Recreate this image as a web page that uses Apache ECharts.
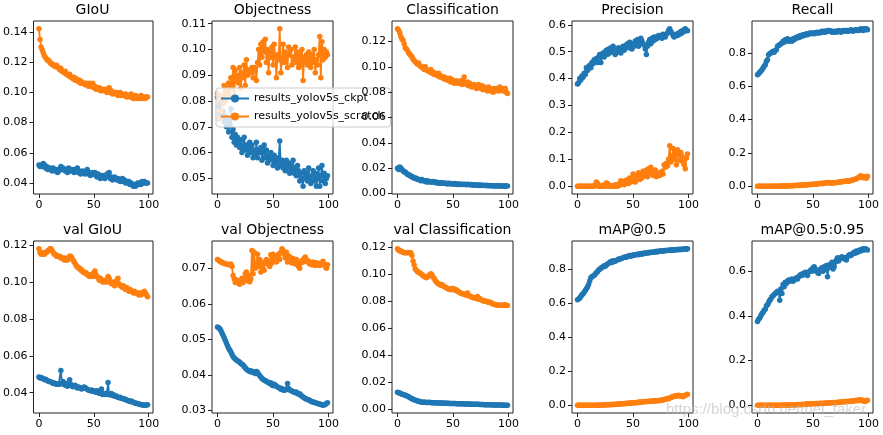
<!DOCTYPE html>
<html><head><meta charset="utf-8">
<script src="https://cdn.jsdelivr.net/npm/echarts@6/dist/echarts.min.js"></script>
<style>html,body{margin:0;padding:0;background:#fff}#c{width:883px;height:435px}</style>
</head><body><div id="c"></div>
<script>
const epochs = [...Array(100).keys()];
const seriesNames = ['results_yolov5s_ckpt', 'results_yolov5s_scratch'];
const titles = ['GIoU', 'Objectness', 'Classification', 'Precision', 'Recall',
  'val GIoU', 'val Objectness', 'val Classification', 'mAP@0.5', 'mAP@0.5:0.95'];
const xTicks = [0, 50, 100];

// GIoU
const gi_c = [0.052,0.051,0.052,0.051,0.053,0.052,0.050,0.051,0.049,0.050,
0.050,0.049,0.048,0.050,0.049,0.048,0.049,0.047,0.048,0.049,
0.051,0.049,0.050,0.049,0.048,0.049,0.047,0.050,0.049,0.048,
0.049,0.048,0.047,0.049,0.048,0.050,0.047,0.048,0.046,0.047,
0.048,0.047,0.046,0.047,0.049,0.046,0.047,0.045,0.046,0.047,
0.046,0.047,0.045,0.044,0.046,0.045,0.043,0.044,0.045,0.044,
0.043,0.044,0.046,0.045,0.047,0.043,0.044,0.042,0.043,0.044,
0.043,0.042,0.043,0.042,0.041,0.042,0.043,0.041,0.042,0.040,
0.041,0.040,0.041,0.039,0.040,0.039,0.038,0.039,0.038,0.039,
0.040,0.039,0.040,0.039,0.041,0.040,0.041,0.040,0.040,0.040];
const gi_s = [0.142,0.135,0.130,0.128,0.126,0.124,0.123,0.122,0.121,0.121,
0.120,0.119,0.119,0.118,0.118,0.117,0.118,0.117,0.116,0.115,
0.116,0.114,0.114,0.113,0.114,0.112,0.112,0.111,0.112,0.110,
0.110,0.109,0.110,0.108,0.109,0.108,0.107,0.108,0.106,0.107,
0.106,0.106,0.105,0.106,0.105,0.104,0.106,0.104,0.105,0.106,
0.103,0.104,0.102,0.103,0.102,0.103,0.101,0.102,0.101,0.102,
0.101,0.102,0.100,0.101,0.103,0.100,0.101,0.099,0.100,0.100,
0.099,0.100,0.098,0.099,0.100,0.098,0.099,0.098,0.098,0.099,
0.097,0.098,0.098,0.097,0.099,0.097,0.096,0.097,0.098,0.096,
0.097,0.097,0.096,0.098,0.097,0.096,0.097,0.096,0.097,0.097];

// Objectness
const ob_c = [0.0815,0.078,0.075,0.079,0.074,0.076,0.072,0.074,0.070,0.073,
0.068,0.071,0.077,0.066,0.069,0.064,0.067,0.063,0.066,0.064,
0.062,0.065,0.060,0.063,0.066,0.061,0.063,0.059,0.062,0.064,
0.060,0.063,0.058,0.061,0.059,0.064,0.058,0.061,0.060,0.062,
0.057,0.060,0.063,0.058,0.061,0.056,0.059,0.057,0.060,0.058,
0.055,0.059,0.056,0.058,0.054,0.057,0.0645,0.055,0.057,0.054,
0.056,0.053,0.057,0.054,0.056,0.052,0.055,0.053,0.057,0.052,
0.054,0.051,0.055,0.053,0.049,0.052,0.050,0.047,0.053,0.050,
0.052,0.049,0.054,0.050,0.048,0.051,0.053,0.049,0.052,0.047,
0.050,0.054,0.047,0.051,0.055,0.049,0.052,0.048,0.050,0.051];
const ob_s = [0.083,0.073,0.081,0.076,0.082,0.079,0.086,0.080,0.085,0.083,
0.087,0.082,0.089,0.085,0.093,0.081,0.092,0.088,0.090,0.087,
0.093,0.085,0.091,0.089,0.094,0.086,0.096,0.090,0.092,0.091,
0.092,0.093,0.089,0.093,0.092,0.088,0.095,0.100,0.094,0.102,
0.097,0.103,0.099,0.104,0.095,0.100,0.091,0.099,0.097,0.101,
0.094,0.102,0.097,0.089,0.098,0.096,0.108,0.091,0.096,0.102,
0.095,0.099,0.097,0.093,0.101,0.098,0.100,0.094,0.097,0.096,
0.101,0.095,0.099,0.093,0.098,0.094,0.100,0.088,0.097,0.095,
0.098,0.094,0.099,0.096,0.093,0.098,0.095,0.100,0.091,0.096,
0.094,0.098,0.105,0.089,0.103,0.096,0.100,0.097,0.099,0.098];

// Classification
const cl_c = [0.020,0.019,0.021,0.020,0.019,0.018,0.017,0.017,0.016,0.015,
0.015,0.014,0.014,0.013,0.013,0.012,0.012,0.012,0.011,0.011,
0.011,0.010,0.011,0.010,0.010,0.010,0.009,0.010,0.009,0.0095,
0.009,0.009,0.0095,0.009,0.0085,0.009,0.0085,0.008,0.0085,0.008,
0.008,0.0085,0.008,0.0078,0.008,0.0075,0.008,0.0078,0.0075,0.0078,
0.0075,0.0072,0.0078,0.0075,0.007,0.0075,0.0072,0.007,0.0073,0.007,
0.0072,0.007,0.0068,0.0072,0.007,0.0068,0.007,0.0066,0.0068,0.0065,
0.0068,0.0066,0.0065,0.0067,0.0064,0.0066,0.0063,0.0065,0.0064,0.0063,
0.0065,0.0062,0.0064,0.0062,0.0063,0.0061,0.0062,0.006,0.0062,0.006,
0.0061,0.006,0.0062,0.0059,0.006,0.0058,0.006,0.0059,0.006,0.006];
const cl_s = [0.130,0.129,0.127,0.124,0.122,0.121,0.118,0.115,0.114,0.113,
0.111,0.110,0.109,0.108,0.106,0.105,0.104,0.103,0.102,0.103,
0.101,0.100,0.100,0.099,0.098,0.100,0.098,0.097,0.097,0.096,
0.098,0.095,0.096,0.094,0.095,0.094,0.093,0.095,0.092,0.093,
0.092,0.091,0.092,0.090,0.091,0.090,0.089,0.091,0.088,0.090,
0.089,0.087,0.088,0.089,0.087,0.088,0.087,0.089,0.086,0.088,
0.092,0.087,0.086,0.088,0.085,0.087,0.086,0.084,0.085,0.086,
0.085,0.083,0.084,0.086,0.084,0.083,0.085,0.082,0.084,0.083,
0.082,0.081,0.084,0.083,0.081,0.082,0.080,0.083,0.081,0.082,
0.083,0.081,0.084,0.082,0.083,0.081,0.082,0.083,0.080,0.079];

// Precision
const pr_c = [0.380,0.385,0.400,0.395,0.410,0.405,0.420,0.415,0.440,0.430,
0.445,0.450,0.440,0.460,0.455,0.470,0.465,0.475,0.460,0.480,
0.490,0.460,0.485,0.495,0.480,0.500,0.505,0.490,0.510,0.495,
0.515,0.500,0.520,0.505,0.490,0.510,0.500,0.515,0.505,0.495,
0.510,0.520,0.505,0.515,0.525,0.530,0.515,0.535,0.525,0.510,
0.530,0.520,0.540,0.530,0.545,0.520,0.535,0.550,0.540,0.530,
0.525,0.510,0.490,0.520,0.535,0.545,0.530,0.550,0.540,0.555,
0.545,0.555,0.550,0.560,0.555,0.560,0.550,0.565,0.560,0.555,
0.565,0.570,0.580,0.585,0.575,0.570,0.560,0.555,0.560,0.565,
0.560,0.570,0.565,0.575,0.570,0.580,0.575,0.585,0.580,0.578];
const pr_s = [0,0,0,0,0,0,0,0,0,0,
0,0,0,0,0,0,0.005,0.015,0.010,0,
0,0,0,0.003,0,0,0.012,0.010,0,0,
0,0.002,0,0,0.005,0,0,0.008,0.003,0.020,
0.010,0.015,0.005,0.020,0.012,0.025,0.010,0.030,0.015,0.020,
0.045,0.030,0.015,0.040,0.035,0.050,0.025,0.045,0.030,0.055,
0.040,0.050,0.060,0.035,0.065,0.045,0.070,0.050,0.040,0.055,
0.060,0.035,0.050,0.045,0.040,0.050,0.055,0.045,0.080,0.070,
0.085,0.075,0.100,0.150,0.090,0.110,0.140,0.100,0.130,0.080,
0.135,0.120,0.095,0.125,0.110,0.090,0.080,0.065,0.105,0.120];

// Recall
const re_c = [0.670,0.675,0.685,0.690,0.700,0.710,0.720,0.730,0.750,0.760,
0.790,0.795,0.800,0.805,0.810,0.805,0.815,0.820,0.840,0.845,
0.850,0.855,0.860,0.870,0.865,0.880,0.875,0.885,0.870,0.880,
0.875,0.870,0.885,0.880,0.890,0.895,0.890,0.900,0.895,0.905,
0.900,0.910,0.905,0.910,0.915,0.910,0.915,0.920,0.915,0.920,
0.920,0.915,0.920,0.925,0.920,0.925,0.920,0.925,0.930,0.925,
0.930,0.925,0.930,0.935,0.930,0.935,0.930,0.925,0.930,0.925,
0.930,0.925,0.930,0.935,0.930,0.925,0.930,0.935,0.930,0.935,
0.930,0.935,0.930,0.935,0.940,0.935,0.930,0.935,0.940,0.935,
0.940,0.935,0.940,0.945,0.940,0.935,0.945,0.940,0.945,0.940];
const re_s = [0,0,0,0,0,0,0,0,0,0,
0,0,0,0,0,0,0.001,0,0,0,
0.001,0,0.002,0,0.001,0.002,0,0.003,0.001,0.002,
0.003,0.002,0.004,0.003,0.005,0.004,0.006,0.005,0.004,0.007,
0.006,0.008,0.007,0.006,0.009,0.008,0.010,0.009,0.011,0.010,
0.012,0.011,0.013,0.012,0.015,0.014,0.016,0.018,0.015,0.017,
0.019,0.018,0.020,0.022,0.020,0.021,0.019,0.018,0.021,0.020,
0.022,0.020,0.024,0.023,0.026,0.025,0.028,0.026,0.030,0.029,
0.032,0.030,0.028,0.033,0.036,0.034,0.038,0.040,0.042,0.045,
0.048,0.052,0.058,0.062,0.055,0.050,0.057,0.052,0.048,0.060];

// val GIoU
const vg_c = [0.0485,0.048,0.0482,0.0478,0.0475,0.047,0.0472,0.0468,0.0465,0.046,
0.046,0.0458,0.0455,0.045,0.0452,0.0448,0.0446,0.0445,0.0448,0.0445,
0.052,0.045,0.046,0.0445,0.044,0.045,0.0435,0.0442,0.047,0.0445,
0.0438,0.0432,0.0435,0.044,0.0432,0.0425,0.043,0.0428,0.0422,0.042,
0.0425,0.043,0.0428,0.0422,0.0418,0.0415,0.0412,0.041,0.0415,0.0408,
0.041,0.0405,0.0402,0.041,0.040,0.0398,0.0395,0.042,0.039,0.0395,
0.0392,0.039,0.0398,0.0455,0.0388,0.039,0.0395,0.0385,0.0388,0.038,
0.0383,0.0378,0.0375,0.0372,0.0375,0.037,0.0368,0.0365,0.0367,0.0362,
0.036,0.0358,0.0355,0.0352,0.0355,0.035,0.0348,0.0345,0.0343,0.0342,
0.034,0.0338,0.0337,0.0335,0.0335,0.0333,0.0332,0.0332,0.0333,0.0335];
const vg_s = [0.118,0.116,0.115,0.116,0.115,0.115,0.116,0.116,0.117,0.117,
0.118,0.118,0.117,0.116,0.115,0.115,0.114,0.114,0.114,0.114,
0.113,0.113,0.113,0.112,0.113,0.112,0.112,0.113,0.114,0.114,
0.113,0.112,0.111,0.110,0.109,0.108,0.108,0.107,0.107,0.106,
0.106,0.105,0.105,0.105,0.104,0.104,0.103,0.104,0.104,0.103,
0.105,0.106,0.104,0.103,0.102,0.101,0.102,0.101,0.100,0.101,
0.100,0.101,0.100,0.103,0.102,0.100,0.099,0.100,0.099,0.098,
0.099,0.101,0.102,0.099,0.098,0.098,0.097,0.098,0.097,0.096,
0.097,0.096,0.095,0.096,0.095,0.095,0.094,0.095,0.094,0.094,
0.094,0.093,0.094,0.093,0.094,0.094,0.095,0.094,0.093,0.092];

// val Objectness
const vo_c = [0.0535,0.0533,0.0530,0.0525,0.0518,0.0512,0.0505,0.0498,0.0490,0.0482,
0.0475,0.0470,0.0465,0.0458,0.0452,0.0448,0.0445,0.0442,0.0440,0.0438,
0.0436,0.0432,0.0430,0.0428,0.0424,0.0420,0.0416,0.0414,0.0412,0.0410,
0.0412,0.0408,0.0410,0.0406,0.0404,0.0410,0.0408,0.0402,0.0398,0.0394,
0.0390,0.0388,0.0385,0.0384,0.0382,0.0380,0.0378,0.0376,0.0378,0.0372,
0.0370,0.0374,0.0372,0.0368,0.0366,0.0365,0.0363,0.0360,0.0362,0.0358,
0.0357,0.0358,0.0360,0.0376,0.0362,0.0358,0.0356,0.0355,0.0353,0.0352,
0.0350,0.0352,0.0348,0.0346,0.0347,0.0343,0.0340,0.0338,0.0336,0.0334,
0.0332,0.0331,0.0330,0.0328,0.0326,0.0325,0.0324,0.0323,0.0322,0.0321,
0.0320,0.0319,0.0318,0.0317,0.0316,0.0315,0.0316,0.0317,0.0320,0.0322];
const vo_s = [0.0725,0.0723,0.0720,0.0718,0.0717,0.0715,0.0714,0.0713,0.0712,0.0711,
0.0711,0.0710,0.0712,0.0705,0.0680,0.0670,0.0660,0.0668,0.0662,0.0658,
0.0655,0.0665,0.0672,0.0660,0.0668,0.0685,0.0690,0.0665,0.0680,0.0662,
0.0670,0.0750,0.0685,0.0745,0.0700,0.0712,0.0740,0.0705,0.0725,0.0690,
0.0715,0.0700,0.0695,0.0718,0.0725,0.0712,0.0720,0.0705,0.0738,0.0715,
0.0740,0.0728,0.0732,0.0718,0.0735,0.0740,0.0725,0.0745,0.0755,0.0750,
0.0740,0.0730,0.0745,0.0718,0.0735,0.0722,0.0730,0.0715,0.0728,0.0720,
0.0712,0.0725,0.0718,0.0705,0.0700,0.0715,0.0722,0.0718,0.0728,0.0732,
0.0725,0.0718,0.0720,0.0712,0.0715,0.0710,0.0718,0.0712,0.0708,0.0716,
0.0710,0.0714,0.0708,0.0715,0.0712,0.0720,0.0710,0.0705,0.0700,0.0710];

// val Classification
const vc_c = [0.0125,0.012,0.0118,0.0115,0.011,0.0108,0.0105,0.0102,0.0098,0.0095,
0.009,0.0085,0.008,0.0076,0.0072,0.0068,0.0065,0.0062,0.006,0.0058,
0.0055,0.0052,0.005,0.005,0.0049,0.0049,0.0048,0.0048,0.0049,0.0048,
0.0048,0.0047,0.0047,0.0046,0.0046,0.0046,0.0045,0.0045,0.0045,0.0044,
0.0044,0.0044,0.0043,0.0043,0.0042,0.0042,0.0042,0.0041,0.0041,0.0041,
0.004,0.004,0.004,0.0039,0.0039,0.0039,0.0039,0.0038,0.0038,0.0038,
0.0037,0.0037,0.0037,0.0036,0.0036,0.0036,0.0035,0.0035,0.0035,0.0035,
0.0034,0.0034,0.0034,0.0034,0.0033,0.0033,0.0033,0.0033,0.0032,0.0032,
0.0032,0.0032,0.0031,0.0031,0.0031,0.0031,0.003,0.003,0.003,0.003,
0.003,0.0029,0.0029,0.0029,0.0029,0.0028,0.0028,0.0028,0.0028,0.0028];
const vc_s = [0.119,0.118,0.118,0.117,0.117,0.1165,0.116,0.116,0.116,0.1162,
0.116,0.1163,0.116,0.114,0.110,0.107,0.104,0.103,0.102,0.1015,
0.101,0.1005,0.100,0.099,0.0985,0.098,0.0975,0.098,0.099,0.0995,
0.1005,0.0995,0.098,0.097,0.0955,0.0945,0.0935,0.093,0.0925,0.092,
0.0925,0.0915,0.091,0.0905,0.090,0.0895,0.089,0.089,0.0885,0.0895,
0.0895,0.089,0.088,0.0885,0.0878,0.087,0.0865,0.086,0.0858,0.0855,
0.0855,0.0848,0.0845,0.0862,0.0842,0.084,0.0835,0.083,0.0828,0.0825,
0.0828,0.082,0.0835,0.0815,0.082,0.0812,0.081,0.0805,0.080,0.0802,
0.080,0.0795,0.0792,0.0795,0.079,0.0785,0.078,0.0778,0.0775,0.0772,
0.077,0.0772,0.077,0.0768,0.077,0.0772,0.0768,0.0775,0.077,0.0768];

// mAP@0.5
const m5_c = [0.620,0.625,0.630,0.640,0.650,0.655,0.665,0.675,0.685,0.695,
0.710,0.730,0.750,0.755,0.760,0.765,0.770,0.780,0.785,0.795,
0.800,0.805,0.810,0.815,0.820,0.818,0.825,0.830,0.835,0.840,
0.845,0.840,0.850,0.845,0.848,0.852,0.855,0.860,0.858,0.862,
0.865,0.868,0.870,0.872,0.870,0.875,0.878,0.880,0.876,0.882,
0.880,0.885,0.883,0.886,0.888,0.885,0.890,0.892,0.888,0.893,
0.895,0.893,0.896,0.898,0.895,0.900,0.898,0.900,0.902,0.900,
0.903,0.905,0.902,0.905,0.907,0.905,0.908,0.906,0.910,0.908,
0.910,0.912,0.910,0.913,0.911,0.914,0.912,0.915,0.913,0.916,
0.915,0.917,0.915,0.918,0.916,0.919,0.917,0.920,0.918,0.920];
const m5_s = [0,0,0,0,0,0,0,0,0,0,
0,0,0,0,0,0,0,0,0,0.001,
0,0.001,0,0.001,0.002,0.001,0.002,0.003,0.002,0.003,
0.004,0.003,0.005,0.004,0.006,0.005,0.007,0.006,0.008,0.007,
0.009,0.008,0.010,0.009,0.012,0.010,0.011,0.013,0.012,0.014,
0.013,0.015,0.014,0.016,0.015,0.018,0.017,0.019,0.018,0.020,
0.021,0.020,0.022,0.021,0.023,0.022,0.024,0.023,0.025,0.024,
0.026,0.025,0.027,0.026,0.029,0.028,0.031,0.030,0.033,0.035,
0.037,0.040,0.038,0.042,0.045,0.048,0.050,0.052,0.055,0.053,
0.056,0.058,0.055,0.052,0.054,0.050,0.056,0.058,0.062,0.065];

// mAP@0.5:0.95
const m9_c = [0.375,0.385,0.390,0.400,0.410,0.415,0.425,0.430,0.445,0.450,
0.460,0.470,0.475,0.485,0.490,0.495,0.500,0.505,0.510,0.505,
0.470,0.520,0.500,0.540,0.530,0.550,0.545,0.555,0.560,0.555,
0.560,0.565,0.555,0.560,0.565,0.570,0.565,0.575,0.580,0.585,
0.580,0.590,0.585,0.595,0.590,0.580,0.595,0.600,0.605,0.600,
0.615,0.620,0.610,0.600,0.595,0.590,0.605,0.610,0.615,0.600,
0.620,0.610,0.625,0.575,0.615,0.630,0.625,0.640,0.610,0.620,
0.640,0.650,0.660,0.645,0.655,0.660,0.665,0.660,0.655,0.660,
0.650,0.665,0.670,0.675,0.670,0.675,0.680,0.685,0.680,0.690,
0.685,0.690,0.695,0.690,0.698,0.700,0.695,0.700,0.698,0.695];
const m9_s = [0,0,0,0,0,0,0,0,0,0,
0,0,0,0,0,0,0,0,0,0,
0,0,0,0.001,0,0.001,0,0.001,0.001,0,
0.001,0.002,0.001,0.002,0.001,0.002,0.003,0.002,0.003,0.002,
0.003,0.004,0.003,0.004,0.005,0.004,0.005,0.006,0.005,0.006,
0.006,0.007,0.006,0.008,0.007,0.008,0.007,0.009,0.008,0.009,
0.008,0.010,0.009,0.010,0.011,0.010,0.011,0.012,0.011,0.012,
0.012,0.011,0.013,0.012,0.014,0.013,0.015,0.014,0.016,0.015,
0.017,0.016,0.018,0.017,0.019,0.018,0.020,0.019,0.021,0.022,
0.020,0.023,0.024,0.021,0.023,0.019,0.018,0.017,0.021,0.022];

// y tick labels per panel
const yTicks = [
  [0.04,0.06,0.08,0.10,0.12,0.14],
  [0.05,0.06,0.07,0.08,0.09,0.10,0.11],
  [0.00,0.02,0.04,0.06,0.08,0.10,0.12],
  [0.0,0.1,0.2,0.3,0.4,0.5,0.6],
  [0.0,0.2,0.4,0.6,0.8],
  [0.04,0.06,0.08,0.10,0.12],
  [0.03,0.04,0.05,0.06,0.07],
  [0.00,0.02,0.04,0.06,0.08,0.10,0.12],
  [0.0,0.2,0.4,0.6,0.8],
  [0.0,0.2,0.4,0.6]
];
const yDecimals = [2,2,2,1,1,2,2,2,1,1];
const ckptData = [gi_c, ob_c, cl_c, pr_c, re_c, vg_c, vo_c, vc_c, m5_c, m9_c];
const scratchData = [gi_s, ob_s, cl_s, pr_s, re_s, vg_s, vo_s, vc_s, m5_s, m9_s];

const FONT = 'DejaVu Sans';
const COLORS = ['#1f77b4', '#ff7f0e'];
const grid = [], xAxis = [], yAxis = [], series = [], graphic = [];

titles.forEach((t, i) => {
  const row = Math.floor(i / 5), col = i % 5;
  const w = 121;
  const left = 32 + col * 180;
  const top = row ? 241 : 21;
  const h = row ? 172 : 173;
  const all = ckptData[i].concat(scratchData[i]);
  const mn = Math.min(...all), mx = Math.max(...all), pad = (mx - mn) * 0.05;
  const special = i === 2;
  grid.push({left, top, width: w, height: h, show: true, borderColor: '#222', borderWidth: 1,
    backgroundColor: special ? '#fff' : 'transparent', z: special ? 4 : 0});
  xAxis.push({type: 'value', gridIndex: i, min: -4.95, max: 103.95, z: special ? 5 : 0,
    splitLine: {show: false}, axisLine: {show: false, onZero: false},
    axisTick: {show: true, length: 4, customValues: xTicks, lineStyle: {color: '#222', width: 1}},
    axisLabel: {customValues: xTicks, fontSize: 11, color: '#000', margin: 6, fontFamily: FONT}});
  yAxis.push({type: 'value', gridIndex: i, min: mn - pad, max: mx + pad, z: special ? 5 : 0,
    splitLine: {show: false}, axisLine: {show: false, onZero: false},
    axisTick: {show: true, length: 4, customValues: yTicks[i], lineStyle: {color: '#222', width: 1}},
    axisLabel: {customValues: yTicks[i], fontSize: 11, color: '#000', margin: 6, fontFamily: FONT,
      formatter: v => Number(v).toFixed(yDecimals[i])}});
  [ckptData[i], scratchData[i]].forEach((d, k) => {
    series.push({type: 'line', name: seriesNames[k], xAxisIndex: i, yAxisIndex: i,
      data: epochs.map((e, j) => [e, d[j]]), symbol: 'circle', symbolSize: 5.5, showSymbol: true,
      color: COLORS[k], lineStyle: {width: 1.8, color: COLORS[k]}, itemStyle: {color: COLORS[k]},
      z: special ? 6 : 2, animation: false});
  });
  graphic.push({type: 'text', x: left + w / 2, y: row ? 230 : 10, silent: true,
    style: {text: t, align: 'center', verticalAlign: 'middle', fontSize: 14, fontFamily: FONT, fill: '#000'}});
});

graphic.push({type: 'text', x: 666, y: 410, z: 100, silent: true,
  style: {text: 'https://blog.csdn.net/nei_faker', align: 'left', verticalAlign: 'middle',
    fontSize: 15, fontFamily: 'Liberation Sans', fill: 'rgba(185,185,185,0.6)'}});

const chart = echarts.init(document.getElementById('c'), null, {renderer: 'canvas'});
chart.setOption({
  animation: false,
  backgroundColor: '#fff',
  grid, xAxis, yAxis, series, graphic,
  legend: {
    data: seriesNames, orient: 'vertical', left: 216, top: 88, z: 3,
    itemWidth: 28, itemHeight: 10, itemGap: 7,
    backgroundColor: 'rgba(255,255,255,0.8)', borderColor: '#cccccc', borderWidth: 1, borderRadius: 3,
    padding: [5, 6, 5, 4],
    textStyle: {fontSize: 11, fontFamily: FONT, color: '#000'}
  }
});
</script>
</body></html>
